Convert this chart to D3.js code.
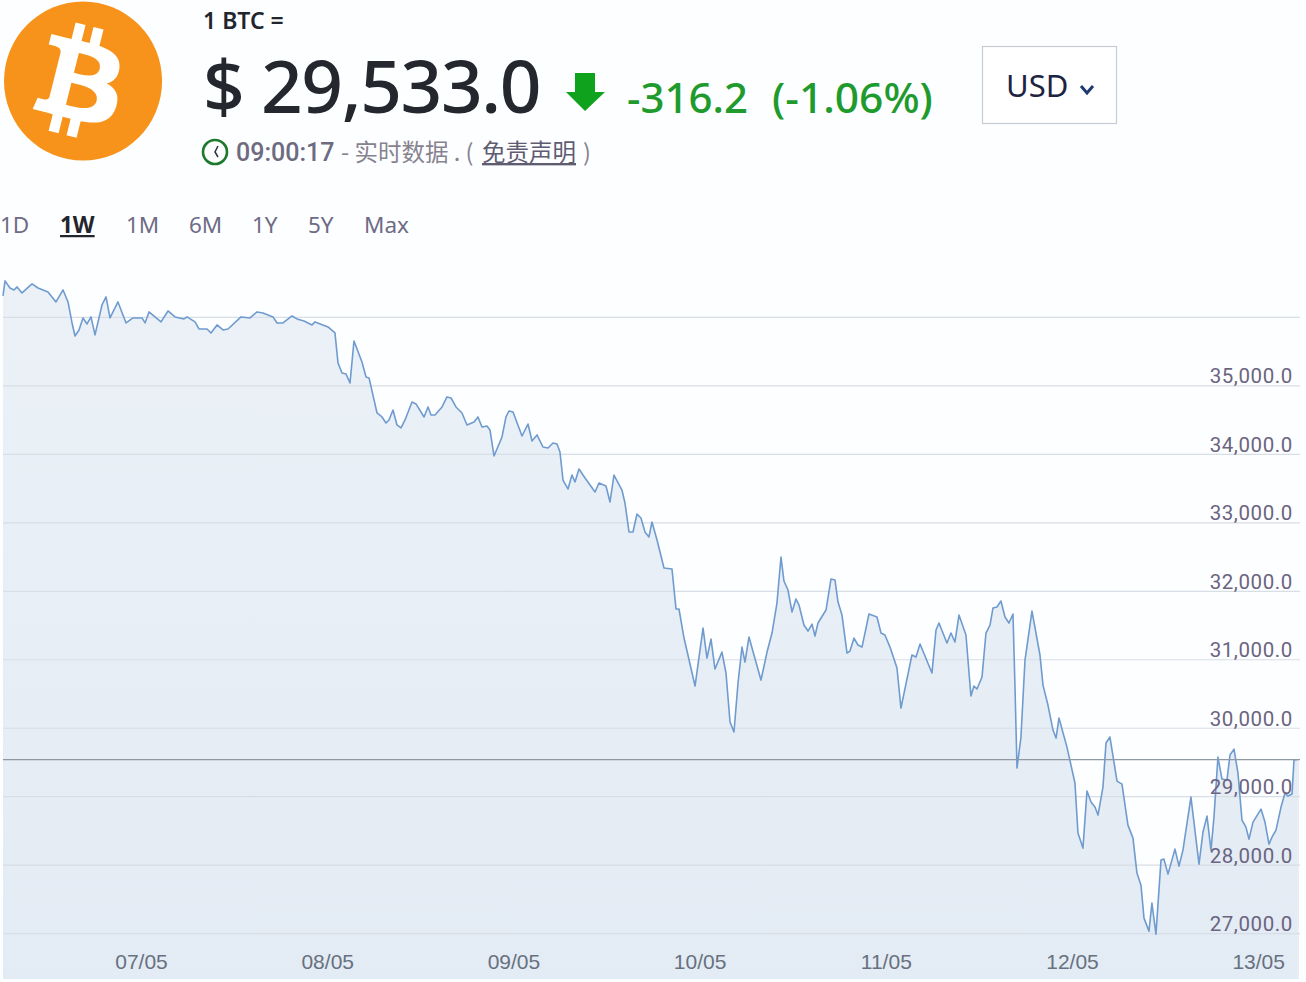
<!DOCTYPE html>
<html>
<head>
<meta charset="utf-8">
<title>BTC</title>
<script src="https://cdn.jsdelivr.net/npm/d3@7"></script>
<style>
  html, body { margin: 0; padding: 0; background: #fdfeff; overflow: hidden; }
  svg { display: block; }
  .head { font-family: "Noto Sans", sans-serif; }
  .cjk { font-family: "Noto Sans CJK SC", sans-serif; }
  .axis path { display: none; }
</style>
</head>
<body>
<div id="chart"></div>
<script>
// hours since 06/05 00:00
const hours = [6.21,6.47,7.11,7.63,8.02,8.66,9.95,10.72,12.01,13.04,13.95,14.59,15.11,15.49,16.01,16.52,17.04,17.55,18.07,18.97,19.49,20.0,21.03,22.07,22.97,24.13,24.52,25.03,25.8,26.58,27.48,28.38,29.54,29.93,30.96,31.47,32.51,33.02,33.8,34.57,35.21,36.89,38.05,38.95,39.72,41.01,41.53,42.3,43.46,44.11,45.01,46.04,46.43,48.1,49.0,49.39,49.91,50.42,50.94,51.45,52.48,53.0,53.39,54.42,55.06,55.58,55.96,56.48,56.99,57.51,58.03,58.93,59.44,60.48,60.99,61.38,61.89,62.8,63.44,63.96,64.6,65.37,66.02,66.92,67.43,67.95,68.59,68.98,69.5,70.53,71.04,71.43,71.95,73.11,73.88,74.4,75.04,75.81,76.46,77.1,77.62,78.0,78.39,79.03,79.55,79.94,80.45,81.23,82.52,83.03,83.93,84.45,84.96,85.99,86.38,86.9,87.41,87.93,88.44,88.96,89.47,89.86,90.51,91.41,92.44,92.96,93.34,93.99,95.41,96.44,96.95,97.47,97.98,98.88,99.4,99.92,100.43,100.95,101.46,101.85,102.36,103.91,104.69,105.33,105.97,106.49,106.87,107.39,107.91,108.42,108.81,109.45,109.97,110.49,110.87,111.26,112.29,112.93,113.45,113.84,114.35,115.0,115.38,115.9,116.41,116.93,117.83,118.86,119.38,119.89,120.54,121.44,121.95,123.37,123.89,124.41,125.95,126.47,126.85,127.88,128.4,128.91,129.43,130.33,130.97,131.36,131.75,132.4,132.91,133.43,133.81,134.33,134.84,135.36,135.87,136.39,136.65,136.91,137.42,137.94,138.84,139.87,140.26,140.9,141.55,141.94,142.32,143.35,144.38,144.77,145.41,145.93,146.45,146.96,147.35,147.99,148.38,148.89,149.8,150.44,151.21,151.86,152.37,152.89,153.28,153.92,154.3,154.82,155.47,155.85,156.37,157.27,157.79,158.3,159.33,160.37,160.88,161.4,161.91,162.3,162.81,163.33,163.97,164.36,164.88,165.39,165.91,166.42,166.81,167.33,168.36,168.87,169.39,169.78,170.29,170.94,171.45,171.84,172.36,172.61,173.0];
const prices = [36307,36526,36423,36394,36438,36350,36482,36423,36365,36219,36394,36219,35912,35722,35810,35985,35897,36000,35737,36175,36292,35985,36219,35912,35985,35985,35912,36073,36000,35927,36087,36000,35971,36000,35927,35824,35824,35766,35883,35810,35824,36000,35985,36073,36058,36000,35912,35912,36014,35971,35941,35883,35927,35854,35766,35328,35182,35167,35036,35649,35342,35123,35109,34597,34539,34451,34495,34641,34422,34378,34495,34758,34729,34539,34685,34568,34568,34685,34831,34816,34685,34597,34422,34466,34539,34393,34407,34349,33969,34247,34539,34626,34612,34261,34436,34188,34276,34100,34086,34159,34144,34027,33618,33487,33691,33589,33779,33648,33443,33575,33531,33297,33691,33472,33282,32859,32859,33122,33063,32859,32786,33005,32742,32333,32318,31734,31734,31310,30609,31456,31018,31295,30857,31105,30799,30083,29937,30653,31178,30959,31325,30696,31105,31383,31821,32493,32143,32011,31690,31880,31792,31500,31412,31514,31339,31529,31719,32172,32157,31836,31646,31091,31120,31310,31208,31178,31661,31617,31383,31354,31178,30872,30287,31062,31032,31222,30799,31427,31529,31237,31383,31252,31646,31354,30463,30609,30565,30740,31383,31500,31748,31763,31851,31617,31529,31661,30594,29411,29864,30989,31704,31062,30623,30331,29966,29849,30141,29717,29192,28461,28242,29075,28914,28841,28724,29133,29776,29864,29221,29177,28578,28388,27877,27701,27219,27029,27438,26985,28067,28081,27862,28227,27979,28213,28987,28008,28476,28709,28213,28695,29571,29250,29235,29601,29688,29338,28651,28549,28373,28622,28812,28622,28300,28403,28505,28841,29045,29002,29031,29528,29533];

const dayTicks = [24, 48, 72, 96, 120, 144, 168];
const dayLabels = ['07/05', '08/05', '09/05', '10/05', '11/05', '12/05', '13/05'];
const gridPrices = [27000, 28000, 29000, 30000, 31000, 32000, 33000, 34000, 35000, 36000];
const labelledPrices = [27000, 28000, 29000, 30000, 31000, 32000, 33000, 34000, 35000];
const rangeTabs = ['1D', '1W', '1M', '6M', '1Y', '5Y', 'Max'];
const rangeTabX = [0, 60, 126, 189, 252, 308, 364];
const currentPrice = 29533;

const width = 1306, height = 982;
const svg = d3.select('#chart').append('svg').attr('width', width).attr('height', height);

const defs = svg.append('defs');
const grad = defs.append('linearGradient').attr('id', 'areaFill').attr('x1', 0).attr('y1', 0).attr('x2', 0).attr('y2', 1);
grad.append('stop').attr('offset', '0%').attr('stop-color', '#ebf1f7');
grad.append('stop').attr('offset', '100%').attr('stop-color', '#e3ebf4');

// scales
const x = d3.scaleLinear().domain([6.21, 173]).range([3, 1297]);
const y = d3.scaleLinear().domain([26330, 36700]).range([979, 269]);

const points = hours.map((h, i) => ({ h, p: prices[i] }));

const area = d3.area().x(d => x(d.h)).y0(y.range()[0]).y1(d => y(d.p));
const line = d3.line().x(d => x(d.h)).y(d => y(d.p));

svg.append('path').datum(points).attr('d', area).attr('fill', 'url(#areaFill)');
// area runs on to the right edge of the plot
svg.append('rect').attr('x', 1297).attr('y', y(currentPrice)).attr('width', 2)
  .attr('height', y.range()[0] - y(currentPrice)).attr('fill', '#e6edf5');

// gridlines
svg.append('g')
  .attr('transform', 'translate(3,0)')
  .call(d3.axisRight(y).tickValues(gridPrices).tickSize(1297).tickFormat(''))
  .call(g => g.select('.domain').remove())
  .call(g => g.selectAll('line').attr('stroke', '#d8dee6').attr('stroke-width', 1.2));

svg.append('path').datum(points).attr('d', line)
  .attr('fill', 'none').attr('stroke', '#6f9bcf').attr('stroke-width', 1.6).attr('stroke-linejoin', 'round');

// current price
svg.append('line').attr('x1', 3).attr('x2', 1300)
  .attr('y1', y(currentPrice)).attr('y2', y(currentPrice))
  .attr('stroke', '#8e99a4').attr('stroke-width', 1.2);

// y labels
const yAxis = svg.append('g').attr('class', 'axis')
  .attr('transform', 'translate(1293,0)')
  .call(d3.axisLeft(y).tickValues(labelledPrices).tickSize(0).tickPadding(0).tickFormat(d3.format(',.1f')));
yAxis.selectAll('text')
  .attr('dy', '-0.12em')
  .attr('font-family', 'Roboto, sans-serif')
  .attr('font-size', 20.5)
  .attr('letter-spacing', 0.6)
  .attr('fill', '#6b6480');

// x labels
const xAxis = svg.append('g').attr('class', 'axis')
  .attr('transform', 'translate(0,954)')
  .call(d3.axisBottom(x).tickValues(dayTicks).tickSize(0).tickPadding(0).tickFormat((d, i) => dayLabels[i]));
xAxis.selectAll('text')
  .attr('font-family', '"Liberation Sans", sans-serif')
  .attr('font-size', 21)
  .attr('fill', '#67717f');

// logo
const logo = svg.append('g').attr('transform', 'translate(4,2) scale(2.47)');
logo.append('ellipse').attr('cx', 32).attr('cy', 32).attr('rx', 32).attr('ry', 32.2).attr('fill', '#f7931a');
logo.append('path').attr('fill', '#fff')
  .attr('transform', 'translate(30.5,32.3) scale(1.15) translate(-32,-32)')
  .attr('d', 'M46.11 27.441c.636-4.258-2.606-6.547-7.039-8.074l1.438-5.768-3.512-.875-1.4 5.616c-.922-.23-1.87-.447-2.812-.662l1.41-5.653-3.509-.875-1.439 5.766c-.764-.174-1.514-.346-2.242-.527l.004-.018-4.842-1.209-.934 3.75s2.605.597 2.55.634c1.422.355 1.68 1.296 1.636 2.042l-1.638 6.571c.098.025.225.061.365.117l-.37-.092-2.297 9.205c-.174.432-.615 1.08-1.609.834.035.051-2.552-.637-2.552-.637l-1.743 4.02 4.57 1.139c.85.213 1.683.436 2.502.646l-1.453 5.835 3.507.875 1.44-5.772c.957.26 1.887.5 2.797.726L27.504 50.8l3.511.875 1.453-5.823c5.987 1.133 10.49.676 12.383-4.738 1.527-4.36-.075-6.875-3.225-8.516 2.294-.531 4.022-2.04 4.483-5.157zM38.087 38.69c-1.086 4.36-8.426 2.004-10.807 1.412l1.928-7.729c2.38.594 10.011 1.77 8.88 6.317zm1.085-11.312c-.99 3.966-7.1 1.951-9.083 1.457l1.748-7.01c1.983.494 8.367 1.416 7.335 5.553z');

// currency box
svg.append('rect').attr('x', 982.5).attr('y', 46.5).attr('width', 134).attr('height', 77)
  .attr('fill', '#fff').attr('stroke', '#c6ccd4').attr('stroke-width', 1.2);
svg.append('path').attr('d', 'M1081,86 L1087,93 L1093,86').attr('fill', 'none').attr('stroke', '#1f3a6e').attr('stroke-width', 3);

// header text
const head = svg.append('g').attr('class', 'head');
head.append('text').attr('x', 203).attr('y', 29).attr('font-size', 23).attr('font-weight', 600).attr('fill', '#23252d').text('1 BTC =');
head.append('text').attr('x', 203).attr('y', 113).attr('font-size', 73).attr('font-weight', 500).attr('letter-spacing', -1.4).attr('fill', '#25272f').text('$ 29,533.0');

// down arrow
head.append('path').attr('fill', '#0fa21d')
  .attr('d', 'M575,73 H595 V92 H605 L585,111 L566,92 H575 Z');

head.append('text').attr('x', 627).attr('y', 113).attr('font-size', 42).attr('font-weight', 500).attr('fill', '#1f9b2e').text('-316.2');
head.append('text').attr('x', 772).attr('y', 113).attr('font-size', 42.5).attr('font-weight', 500).attr('fill', '#1f9b2e').text('(-1.06%)');
head.append('text').attr('x', 1006).attr('y', 97).attr('font-size', 31).attr('fill', '#1d2342').text('USD');

// clock
svg.append('circle').attr('cx', 215).attr('cy', 152).attr('r', 12).attr('fill', 'none').attr('stroke', '#1b7a2b').attr('stroke-width', 2.6);
svg.append('path').attr('d', 'M218,146 L215,152 L218,157').attr('fill', 'none').attr('stroke', '#25343a').attr('stroke-width', 1.5);

svg.append('text').attr('x', 236).attr('y', 161).attr('font-family', 'Roboto, sans-serif').attr('font-size', 25).attr('font-weight', 500).attr('fill', '#6e6a80').text('09:00:17');
const status = svg.append('g').attr('class', 'cjk').attr('font-size', 23.5).attr('fill', '#86838f');
status.append('text').attr('x', 341).attr('y', 161).text('- 实时数据 . (');
status.append('text').attr('x', 482).attr('y', 161).attr('fill', '#5f5c72').attr('text-decoration', 'underline').text('免责声明');
status.append('text').attr('x', 583).attr('y', 161).text(')');

// range tabs
rangeTabs.forEach((t, i) => {
  const active = t === '1W';
  svg.append('text').attr('x', rangeTabX[i]).attr('y', 233)
    .attr('class', 'head').attr('font-size', 22.5)
    .attr('font-weight', active ? 700 : 400)
    .attr('fill', active ? '#23252d' : '#6f6b86')
    .attr('text-decoration', active ? 'underline' : null)
    .text(t);
});
</script>
</body>
</html>
